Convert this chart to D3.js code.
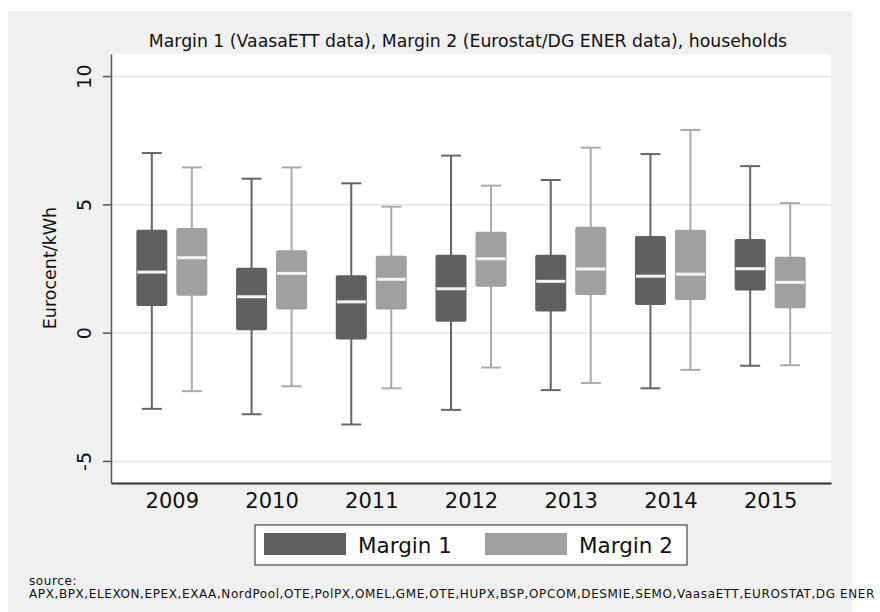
<!DOCTYPE html>
<meta charset="utf-8">
<style>
body { margin: 0; background: #fff; }
svg text { font-family: "DejaVu Sans", Verdana, sans-serif; fill: #111; }
g.y.axis text { font-size: 19px; }
g.x.axis text { font-size: 21px; }
g.grid line { stroke: #e6e6e6; stroke-width: 1.5px; }
</style>
<body>
<div id="boxplot"></div>
<script src="https://cdn.jsdelivr.net/npm/d3@7"></script>
<script>
// Box plot of margins per year, two series side by side

var years = ["2009", "2010", "2011", "2012", "2013", "2014", "2015"];
var seriesNames = ["Margin 1", "Margin 2"];

// lower whisker, q1, median, q3, upper whisker
var margin1 = [
  [-2.97, 1.04, 2.36, 4.01, 7.00],
  [-3.18, 0.09, 1.40, 2.53, 6.00],
  [-3.58, -0.27, 1.20, 2.24, 5.82],
  [-3.01, 0.42, 1.71, 3.04, 6.90],
  [-2.24, 0.82, 2.00, 3.04, 5.95],
  [-2.17, 1.08, 2.20, 3.77, 6.96],
  [-1.29, 1.64, 2.49, 3.65, 6.49]
];
var margin2 = [
  [-2.28, 1.44, 2.92, 4.08, 6.44],
  [-2.09, 0.90, 2.31, 3.21, 6.44],
  [-2.17, 0.90, 2.08, 3.00, 4.91],
  [-1.36, 1.79, 2.88, 3.93, 5.73],
  [-1.96, 1.47, 2.48, 4.13, 7.21],
  [-1.45, 1.27, 2.28, 4.01, 7.90],
  [-1.27, 0.95, 1.96, 2.96, 5.05]
];
var yTicks = [-5, 0, 5, 10];

var boxFill = ["#606060", "#a0a0a0"];
var whiskerColor = ["#666666", "#ababab"];

var width = 880, height = 612;
var plot = {left: 111, right: 831, top: 54, bottom: 483};

var svg = d3.select("#boxplot").append("svg")
    .attr("width", width)
    .attr("height", height);

// grey background panel
svg.append("rect")
    .attr("x", 8).attr("y", 11)
    .attr("width", 844).attr("height", height - 11)
    .attr("fill", "#f0f0f0");

// white plot region
svg.append("rect")
    .attr("x", plot.left).attr("y", plot.top)
    .attr("width", plot.right - plot.left).attr("height", plot.bottom - plot.top)
    .attr("rx", 3)
    .attr("fill", "#ffffff");

var x0 = d3.scalePoint()
    .domain(years)
    .range([plot.left, plot.right])
    .padding(0.61);

var x1 = d3.scalePoint()
    .domain(seriesNames)
    .range([-20, 20]);

var y = d3.scaleLinear()
    .domain([-5.86, 10.86])
    .range([plot.bottom, plot.top]);

// gridlines
svg.append("g")
    .attr("class", "grid")
    .attr("transform", "translate(" + plot.left + ",0)")
    .call(d3.axisLeft(y).tickValues(yTicks).tickSize(-(plot.right - plot.left)).tickFormat(""))
    .call(function (g) { g.select(".domain").remove(); });

// y axis (plain hyphen for negatives)
var yAxis = svg.append("g")
    .attr("class", "y axis")
    .attr("transform", "translate(" + plot.left + ",0)")
    .call(d3.axisLeft(y).tickValues(yTicks)
      .tickFormat(function (d) { return String(d); })
      .tickSize(8).tickPadding(6).tickSizeOuter(0));
yAxis.select(".domain").attr("stroke", "#555").attr("stroke-width", 1.5);
yAxis.selectAll(".tick line").attr("stroke", "#555").attr("stroke-width", 1.5);
yAxis.selectAll(".tick text")
    .attr("transform", "rotate(-90)")
    .attr("x", 0)
    .attr("y", -27)
    .attr("dy", "0.35em")
    .attr("text-anchor", "middle");

// x axis
var xAxis = svg.append("g")
    .attr("class", "x axis")
    .attr("transform", "translate(0," + plot.bottom + ")")
    .call(d3.axisBottom(x0).tickSize(0).tickPadding(10).tickSizeOuter(0));
xAxis.select(".domain").attr("stroke", "#333").attr("stroke-width", 2);

// y label
svg.append("text")
    .attr("transform", "translate(50," + 268 + ") rotate(-90)")
    .attr("text-anchor", "middle")
    .attr("dy", "0.35em")
    .style("font-size", "17.5px")
    .text("Eurocent/kWh");

// title
svg.append("text")
    .attr("x", 468).attr("y", 41)
    .attr("text-anchor", "middle")
    .attr("dy", "0.35em")
    .style("font-size", "17.3px")
    .text("Margin 1 (VaasaETT data), Margin 2 (Eurostat/DG ENER data), households");

// boxes
var boxWidth = 31, capWidth = 20;
var allSeries = [margin1, margin2];

allSeries.forEach(function (series, s) {
  var g = svg.append("g").attr("class", "series s" + s);
  var grp = g.selectAll("g.box")
      .data(series)
      .enter().append("g")
      .attr("class", "box")
      .attr("transform", function (d, i) {
        return "translate(" + (x0(years[i]) + x1(seriesNames[s])) + ",0)";
      });

  // whisker lines
  grp.append("line")
      .attr("x1", 0).attr("x2", 0)
      .attr("y1", function (d) { return y(d[0]); })
      .attr("y2", function (d) { return y(d[4]); })
      .attr("stroke", whiskerColor[s]).attr("stroke-width", 2);
  grp.append("line")
      .attr("x1", -capWidth / 2).attr("x2", capWidth / 2)
      .attr("y1", function (d) { return y(d[0]); })
      .attr("y2", function (d) { return y(d[0]); })
      .attr("stroke", whiskerColor[s]).attr("stroke-width", 2);
  grp.append("line")
      .attr("x1", -capWidth / 2).attr("x2", capWidth / 2)
      .attr("y1", function (d) { return y(d[4]); })
      .attr("y2", function (d) { return y(d[4]); })
      .attr("stroke", whiskerColor[s]).attr("stroke-width", 2);

  // box
  grp.append("rect")
      .attr("x", -boxWidth / 2)
      .attr("width", boxWidth)
      .attr("y", function (d) { return y(d[3]); })
      .attr("height", function (d) { return y(d[1]) - y(d[3]); })
      .attr("rx", 2)
      .attr("fill", boxFill[s]);

  // median
  grp.append("line")
      .attr("x1", -boxWidth / 2 + 1).attr("x2", boxWidth / 2 - 1)
      .attr("y1", function (d) { return y(d[2]); })
      .attr("y2", function (d) { return y(d[2]); })
      .attr("stroke", "#f4f4f4").attr("stroke-width", 3);
});

// legend
var legend = svg.append("g").attr("class", "legend");
legend.append("rect")
    .attr("x", 255).attr("y", 525)
    .attr("width", 432).attr("height", 40)
    .attr("fill", "#fff").attr("stroke", "#444").attr("stroke-width", 1.2);
var legendX = [264, 485];
seriesNames.forEach(function (name, s) {
  legend.append("rect")
      .attr("x", legendX[s]).attr("y", 533)
      .attr("width", 82).attr("height", 22)
      .attr("fill", boxFill[s]);
  legend.append("text")
      .attr("x", legendX[s] + 94).attr("y", 545)
      .attr("dy", "0.35em")
      .style("font-size", "21.5px")
      .text(name);
});

// source note
svg.append("text")
    .attr("x", 29).attr("y", 581)
    .attr("dy", "0.35em")
    .style("font-size", "12px")
    .style("letter-spacing", "0.6px")
    .text("source:");
svg.append("text")
    .attr("x", 29).attr("y", 594)
    .attr("dy", "0.35em")
    .style("font-size", "12px")
    .style("letter-spacing", "0.6px")
    .text("APX,BPX,ELEXON,EPEX,EXAA,NordPool,OTE,PolPX,OMEL,GME,OTE,HUPX,BSP,OPCOM,DESMIE,SEMO,VaasaETT,EUROSTAT,DG ENER");
</script>
